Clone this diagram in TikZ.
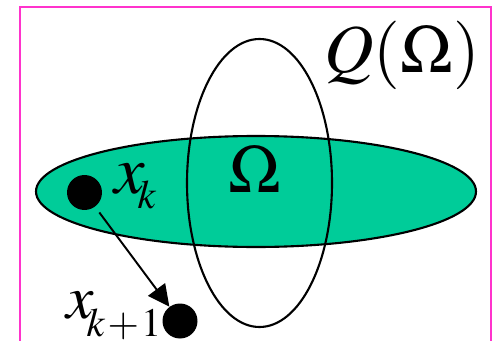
\documentclass[tikz,border=0pt]{standalone}
\usepackage{mathptmx}
\usepackage{tikz}
\usetikzlibrary{arrows.meta}
\usepackage{xcolor}
\definecolor{fgreen}{HTML}{00CC99}
\definecolor{fmagenta}{HTML}{FF33CC}
\DeclareMathSizes{39}{39}{23}{18}
\DeclareMathSizes{35}{35}{23}{18}
\newcommand{\lowsub}[2]{\lower#1\hbox{\kern-4pt$\scriptstyle #2$}}
\tikzset{
  setline/.style = {draw, line width=1.2pt},
  pt/.style      = {fill, circle, inner sep=0pt, minimum size=0.7cm},
  step arrow/.style = {-{Triangle[length=4.3mm, width=4.2mm]}, line width=1.1pt},
  lbl/.style     = {anchor=base, inner sep=0pt},
}

\begin{document}
\begin{tikzpicture}[x=0.02cm, y=-0.02cm, font=\fontsize{39}{47}\selectfont]
\useasboundingbox (0,0) rectangle (493,341);
% ---------- frame ----------
\draw[fmagenta, line width=1.1pt] (20,341) -- (20,7) -- (491,7) -- (491,341);
% ---------- sets ----------
\draw[setline, fill=fgreen] (256,191.5) ellipse [x radius=220, y radius=55.5];
\draw[setline] (259.5,183) ellipse [x radius=72.5, y radius=144];
\node[lbl] (omega) at (255,192) {$\Omega$};
\node[lbl] (qomega) at (402,72) {$Q(\Omega)$};
% ---------- iterates ----------
\node[pt] (xk) at (84.5,192.5) {};
\node[pt] (xk1) at (180,321) {};
\node[lbl, anchor=base west] (xklbl) at (114,193) {$x_{\lowsub{3pt}{k}}$};
\node[lbl, anchor=base west, font=\fontsize{35}{42}\selectfont] (xk1lbl) at (66,318)
  {$x_{\lowsub{5pt}{k\mskip1mu+\mskip1mu1}}$};
\draw[step arrow, shorten <=4pt] (xk) -- (xk1);
\end{tikzpicture}
\end{document}
